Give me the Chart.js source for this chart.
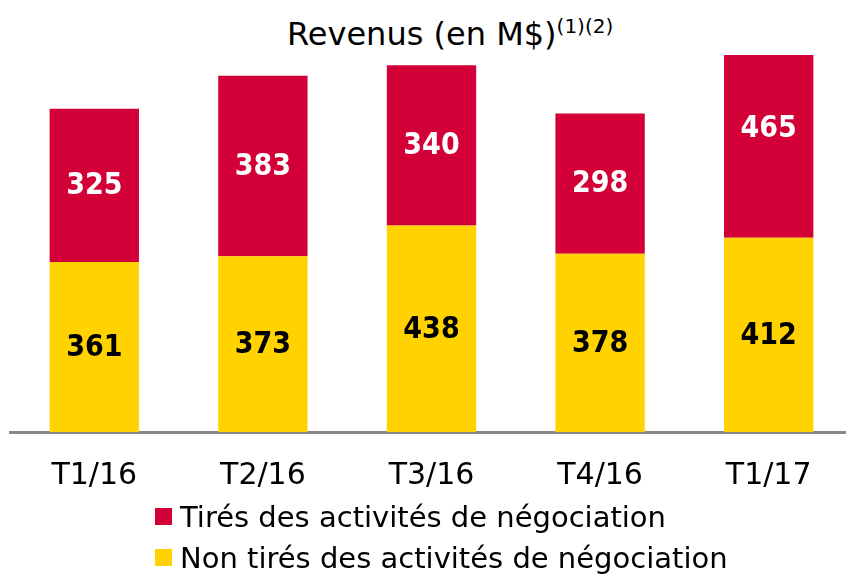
<!DOCTYPE html>
<html>
<head>
<meta charset="utf-8">
<script src="https://cdn.jsdelivr.net/npm/chart.js@4"></script>
<style>
    html, body {
        margin: 0;
        padding: 0;
        width: 846px;
        height: 578px;
        overflow: hidden;
        background: #ffffff;
        font-family: "DejaVu Sans", sans-serif;
    }
    #title {
        position: absolute;
        left: 287px;
        top: 15px;
        font-size: 32px;
        color: #000;
        white-space: nowrap;
    }
    #title sup {
        font-size: 20px;
        vertical-align: 12px;
        line-height: 0;
    }
    #chartBox {
        position: absolute;
        left: 0;
        top: 0;
        width: 856px;
        height: 520px;
    }
    #legend {
        position: absolute;
        left: 155px;
        top: 496px;
        font-size: 29px;
        color: #000;
    }
    .legend-row {
        display: flex;
        align-items: center;
        height: 41px;
        white-space: nowrap;
    }
    .swatch {
        width: 17px;
        height: 17px;
        margin-right: 8px;
        flex: none;
    }
</style>
</head>
<body>
<div id="title">Revenus (en M$)<sup>(1)(2)</sup></div>
<div id="chartBox"><canvas id="revChart"></canvas></div>
<div id="legend"></div>

<script>
// Quarters shown on the x axis
const quarters = ['T1/16', 'T2/16', 'T3/16', 'T4/16', 'T1/17'];

// Revenue in M$
const nonTrading = [361, 373, 438, 378, 412];
const trading = [325, 383, 340, 298, 465];

const seriesNames = [
    'Tirés des activités de négociation',
    'Non tirés des activités de négociation'
];

const RED = '#d20037';
const YELLOW = '#ffd200';

// Draws the value in the middle of each bar segment
const segmentLabels = {
    id: 'segmentLabels',
    afterDatasetsDraw(chart) {
        const ctx = chart.ctx;
        ctx.save();
        ctx.font = 'bold 30px "DejaVu Sans Condensed", "DejaVu Sans", sans-serif';
        ctx.textAlign = 'center';
        ctx.textBaseline = 'middle';
        chart.data.datasets.forEach((ds, i) => {
            const meta = chart.getDatasetMeta(i);
            meta.data.forEach((bar, j) => {
                ctx.fillStyle = ds.labelColor;
                ctx.fillText(String(ds.data[j]), bar.x, (bar.y + bar.base) / 2 + 1);
            });
        });
        ctx.restore();
    }
};

const ctx = document.getElementById('revChart').getContext('2d');
new Chart(ctx, {
    type: 'bar',
    data: {
        labels: quarters,
        datasets: [
            {
                label: seriesNames[1],
                data: nonTrading,
                backgroundColor: YELLOW,
                labelColor: '#000000'
            },
            {
                label: seriesNames[0],
                data: trading,
                backgroundColor: RED,
                labelColor: '#ffffff'
            }
        ]
    },
    options: {
        responsive: true,
        maintainAspectRatio: false,
        animation: false,
        categoryPercentage: 1,
        barPercentage: 0.53,
        layout: {
            padding: { top: 55, left: 10, right: 3, bottom: 0 }
        },
        scales: {
            x: {
                stacked: true,
                grid: { display: false, drawTicks: false },
                border: { display: true, color: '#888888', width: 3 },
                ticks: {
                    color: '#000000',
                    padding: 26,
                    font: { family: '"DejaVu Sans", sans-serif', size: 30 }
                }
            },
            y: {
                stacked: true,
                display: false,
                min: 0,
                max: 800
            }
        },
        plugins: {
            legend: { display: false },
            tooltip: { enabled: false }
        }
    },
    plugins: [segmentLabels]
});

// Legend below the chart, trading first
const legend = document.getElementById('legend');
[[seriesNames[0], RED], [seriesNames[1], YELLOW]].forEach(([name, color]) => {
    const row = document.createElement('div');
    row.className = 'legend-row';
    row.innerHTML = '<span class="swatch" style="background:' + color + '"></span>' + name;
    legend.appendChild(row);
});
</script>
</body>
</html>
